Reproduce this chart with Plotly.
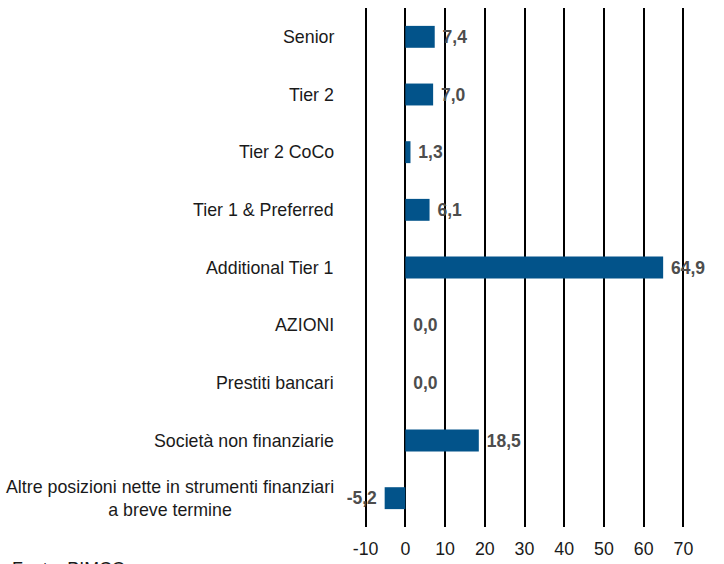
import plotly.graph_objects as go

categories = [
    "Senior",
    "Tier 2",
    "Tier 2 CoCo",
    "Tier 1 & Preferred",
    "Additional Tier 1",
    "AZIONI",
    "Prestiti bancari",
    "Società non finanziarie",
    "Altre posizioni nette in strumenti finanziari<br>a breve termine",
]
values = [7.4, 7.0, 1.3, 6.1, 64.9, 0.0, 0.0, 18.5, -5.2]
tick_values = [-10, 0, 10, 20, 30, 40, 50, 60, 70]
source_text = "Fonte: PIMCO"

FONT = "Liberation Sans, Arial, sans-serif"
labels = [
    (f"\u00a0{v:.1f}" if v >= 0 else f"{v:.1f}\u00a0").replace(".", ",")
    for v in values
]

fig = go.Figure()
fig.add_trace(go.Bar(
    x=values,
    y=categories,
    orientation="h",
    marker=dict(color="#02538A", line=dict(width=0)),
    width=0.38,
    text=labels,
    textposition="outside",
    cliponaxis=False,
    textfont=dict(family=FONT, size=17.5, color="#4D4D4D", weight="bold"),
    hoverinfo="skip",
))

for c in categories:
    fig.add_annotation(
        x=0, xref="paper", y=c, yref="y",
        text=c, showarrow=False,
        xanchor="right", align="center", xshift=-28,
        font=dict(family=FONT, size=17.8, color="#1A1A1A"),
    )

fig.add_annotation(
    x=0, xref="paper", y=-0.058, yref="paper",
    text=source_text, showarrow=False,
    xanchor="left", yanchor="top", xshift=-354,
    font=dict(family=FONT, size=17.8, color="#1A1A1A"),
)

fig.update_layout(
    width=724, height=564,
    margin=dict(l=364, r=39, t=8, b=37, autoexpand=False),
    paper_bgcolor="white", plot_bgcolor="white",
    showlegend=False,
    xaxis=dict(
        range=[-10.4, 70.4],
        tickvals=tick_values,
        ticktext=[str(t) for t in tick_values],
        showgrid=True, gridcolor="black", gridwidth=1.6,
        zeroline=True, zerolinecolor="black", zerolinewidth=1.6,
        showline=False, ticks="",
        automargin=False,
        ticklabelstandoff=9,
        tickfont=dict(family=FONT, size=17.8, color="#1A1A1A"),
    ),
    yaxis=dict(
        categoryorder="array", categoryarray=categories,
        autorange="reversed",
        automargin=False,
        showticklabels=False, showgrid=False, zeroline=False, ticks="",
    ),
)

fig.write_html(
    "out.html",
    config={"displayModeBar": False},
    post_script="document.body.style.margin='0';document.body.style.overflow='hidden';",
)
